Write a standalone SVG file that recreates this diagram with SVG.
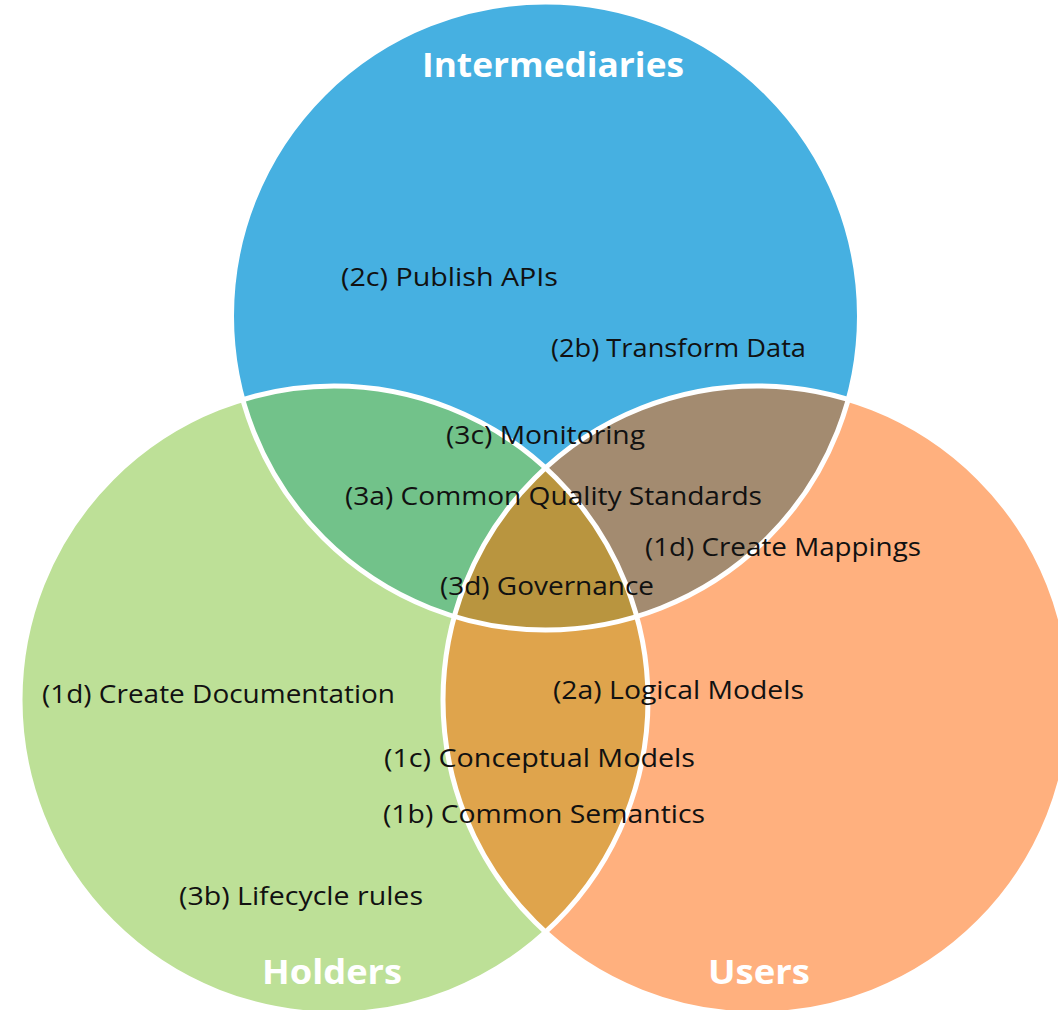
<svg xmlns="http://www.w3.org/2000/svg" width="1058" height="1010" viewBox="0 0 1058 1010">
<style>
.lbl{font-family:"Open Sans","Liberation Sans",Arial,sans-serif;font-size:26px;fill:#111}
.ttl{font-family:"Open Sans","Liberation Sans",Arial,sans-serif;font-size:34px;font-weight:bold;fill:#fff;text-anchor:middle}
.edge{fill:none;stroke:#fff;stroke-width:5}
</style>
<defs>
<clipPath id="cB"><circle cx="545.5" cy="316" r="314"/></clipPath>
<clipPath id="cG"><circle cx="334" cy="700" r="314"/></clipPath>
</defs>
<rect width="1058" height="1010" fill="#fff"/>
<g id="circles">
<circle id="intermediaries" cx="545.5" cy="316" r="314" fill="#46B0E1"/>
<circle id="holders" cx="334" cy="700" r="314" fill="#BDE097"/>
<circle id="users" cx="757" cy="700" r="314" fill="#FFB07E"/>
<g id="int-hold" clip-path="url(#cB)"><circle cx="334" cy="700" r="314" fill="#72C28A"/></g>
<g id="int-users" clip-path="url(#cB)"><circle cx="757" cy="700" r="314" fill="#A38B70"/></g>
<g id="hold-users" clip-path="url(#cG)"><circle cx="757" cy="700" r="314" fill="#DFA44C"/></g>
<g id="all" clip-path="url(#cB)"><g clip-path="url(#cG)"><circle cx="757" cy="700" r="314" fill="#B9953F"/></g></g>
<circle class="edge" cx="545.5" cy="316" r="314"/>
<circle class="edge" cx="334" cy="700" r="314"/>
<circle class="edge" cx="757" cy="700" r="314"/>
</g>
<g id="titles">
<text class="ttl" x="553" y="77" textLength="262" lengthAdjust="spacingAndGlyphs">Intermediaries</text>
<text class="ttl" x="332" y="984" textLength="140" lengthAdjust="spacingAndGlyphs">Holders</text>
<text class="ttl" x="759" y="984" textLength="102" lengthAdjust="spacingAndGlyphs">Users</text>
</g>
<g id="labels">
<text class="lbl" x="341" y="286" textLength="217" lengthAdjust="spacingAndGlyphs">(2c) Publish APIs</text>
<text class="lbl" x="551" y="357" textLength="255" lengthAdjust="spacingAndGlyphs">(2b) Transform Data</text>
<text class="lbl" x="446" y="444" textLength="199" lengthAdjust="spacingAndGlyphs">(3c) Monitoring</text>
<text class="lbl" x="345" y="505" textLength="417" lengthAdjust="spacingAndGlyphs">(3a) Common Quality Standards</text>
<text class="lbl" x="645" y="556" textLength="276" lengthAdjust="spacingAndGlyphs">(1d) Create Mappings</text>
<text class="lbl" x="440" y="595" textLength="214" lengthAdjust="spacingAndGlyphs">(3d) Governance</text>
<text class="lbl" x="42" y="703" textLength="353" lengthAdjust="spacingAndGlyphs">(1d) Create Documentation</text>
<text class="lbl" x="553" y="699" textLength="251" lengthAdjust="spacingAndGlyphs">(2a) Logical Models</text>
<text class="lbl" x="384" y="767" textLength="311" lengthAdjust="spacingAndGlyphs">(1c) Conceptual Models</text>
<text class="lbl" x="383" y="823" textLength="322" lengthAdjust="spacingAndGlyphs">(1b) Common Semantics</text>
<text class="lbl" x="179" y="905" textLength="244" lengthAdjust="spacingAndGlyphs">(3b) Lifecycle rules</text>
</g>
</svg>
